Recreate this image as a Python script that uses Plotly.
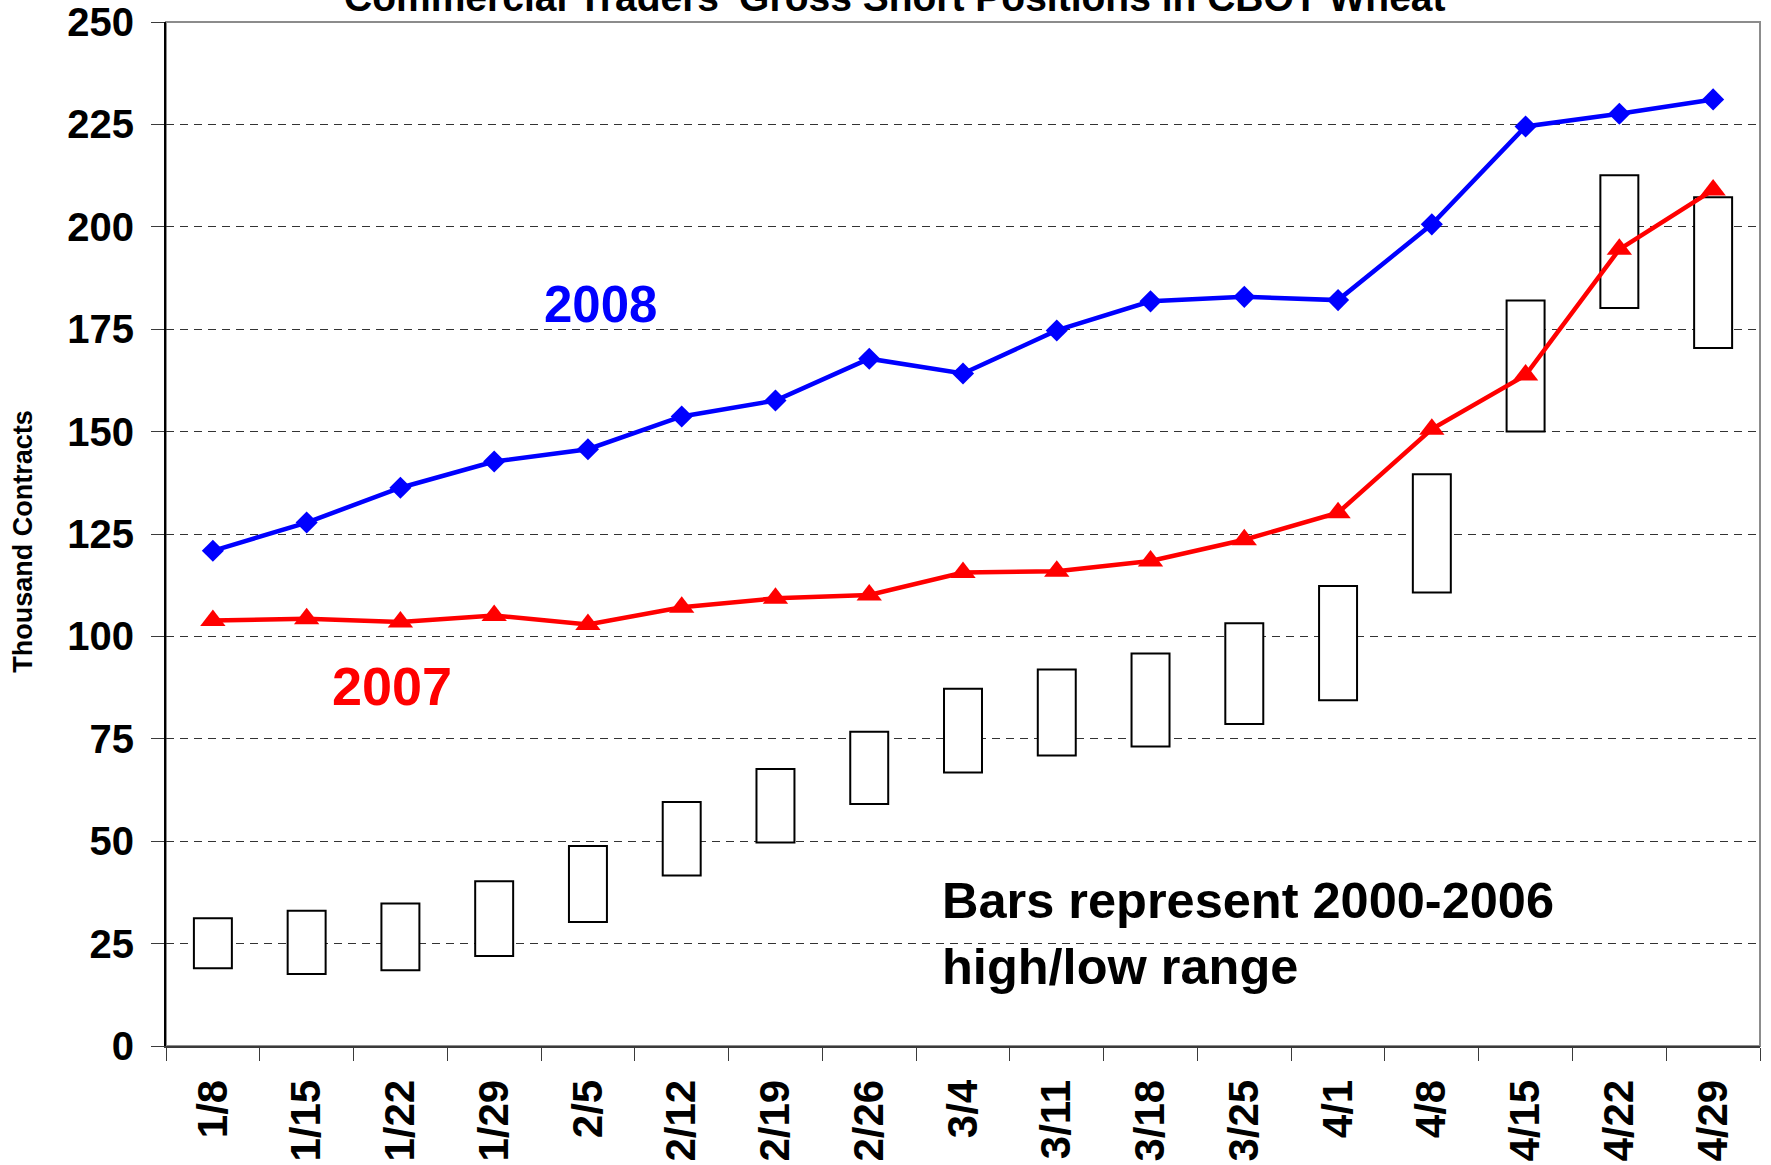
import plotly.graph_objects as go

dates = ["1/8", "1/15", "1/22", "1/29", "2/5", "2/12", "2/19", "2/26", "3/4",
         "3/11", "3/18", "3/25", "4/1", "4/8", "4/15", "4/22", "4/29"]

short_2008 = [120.9, 127.8, 136.3, 142.7, 145.7, 153.7, 157.6, 167.8, 164.2,
              174.7, 181.8, 182.9, 182.1, 200.6, 224.5, 227.6, 231.1]

short_2007 = [103.9, 104.3, 103.5, 105.1, 102.9, 107.1, 109.3, 110.1, 115.6,
              115.9, 118.4, 123.6, 130.2, 150.6, 163.8, 194.5, 209.0]

range_low = [19.0, 17.6, 18.5, 22.0, 30.3, 41.6, 49.7, 59.1, 66.8,
             70.9, 73.1, 78.6, 84.4, 110.7, 150.0, 180.2, 170.4]
range_high = [31.2, 33.0, 34.8, 40.2, 48.8, 59.6, 67.6, 76.7, 87.2,
              91.9, 95.8, 103.2, 112.3, 139.6, 182.0, 212.6, 207.2]

y_ticks = [0, 25, 50, 75, 100, 125, 150, 175, 200, 225, 250]

FONT = "Liberation Sans, Arial, sans-serif"

fig = go.Figure()

fig.add_trace(go.Bar(
    x=dates,
    y=[h - l for h, l in zip(range_high, range_low)],
    base=range_low,
    width=0.405,
    marker=dict(color="white", line=dict(color="black", width=2)),
    showlegend=False,
))

fig.add_trace(go.Scatter(
    x=dates, y=short_2007, mode="lines+markers",
    line=dict(color="#FF0000", width=4.5),
    marker=dict(symbol="triangle-up", size=22, color="#FF0000"),
    showlegend=False,
))

fig.add_trace(go.Scatter(
    x=dates, y=short_2008, mode="lines+markers",
    line=dict(color="#0000FF", width=4.5),
    marker=dict(symbol="diamond", size=17, color="#0000FF"),
    showlegend=False,
))

# grey frame (top / right)
fig.add_shape(type="rect", xref="paper", yref="paper", x0=0, x1=1, y0=0, y1=1,
              line=dict(color="#8c8c8c", width=2), layer="below")

fig.update_layout(
    width=1771, height=1165,
    margin=dict(l=166, r=11, t=22, b=119, pad=0, autoexpand=False),
    paper_bgcolor="white", plot_bgcolor="white",
    font=dict(family=FONT, color="black"),
    bargap=0.6,
    annotations=[
        dict(text="Commercial Traders' Gross Short Positions in CBOT Wheat",
             xref="paper", yref="paper", x=0.4573, y=1.024,
             xanchor="center", yanchor="middle", showarrow=False,
             font=dict(family=FONT, size=39, weight="bold", color="black")),
        dict(text="Thousand Contracts", xref="paper", yref="paper",
             x=-0.0894, y=0.493, xanchor="center", yanchor="middle",
             textangle=-90, showarrow=False,
             font=dict(family=FONT, size=27, weight="bold", color="black")),
        dict(text="2008", xref="paper", yref="y", x=0.2725, y=181.0,
             xanchor="center", yanchor="middle", showarrow=False,
             font=dict(family=FONT, size=51, weight="bold", color="#0000FF")),
        dict(text="2007", xref="paper", yref="y", x=0.1416, y=87.8,
             xanchor="center", yanchor="middle", showarrow=False,
             font=dict(family=FONT, size=54, weight="bold", color="#FF0000")),
        dict(text="Bars represent 2000-2006<br>high/low range", xref="paper", yref="y",
             x=0.4855, y=27.4, xanchor="left", yanchor="middle", align="left",
             showarrow=False,
             font=dict(family=FONT, size=50.5, weight="bold", color="black")),
    ],
)

fig.update_xaxes(
    type="category", range=[-0.5, 16.5], automargin=False,
    showline=True, linecolor="#3a3a3a", linewidth=2,
    ticks="outside", ticklen=13, tickcolor="#3a3a3a", tickwidth=1,
    tickson="boundaries",
    tickangle=-90, ticklabelstandoff=15,
    tickfont=dict(family=FONT, size=42, weight="bold", color="black"),
    showgrid=False, zeroline=False,
)

fig.update_yaxes(
    range=[0, 250], tickvals=y_ticks, ticktext=[str(v) for v in y_ticks],
    automargin=False,
    showline=True, linecolor="black", linewidth=2,
    ticks="outside", ticklen=13, tickcolor="#3a3a3a", tickwidth=1,
    ticklabelstandoff=9,
    tickfont=dict(family=FONT, size=40, weight="bold", color="black"),
    showgrid=True, gridcolor="#333333", gridwidth=1, griddash="8px,6px",
    zeroline=False,
)

fig.write_html("out.html", config={"displayModeBar": False},
               post_script="document.body.style.margin='0';document.body.style.overflow='hidden';")
